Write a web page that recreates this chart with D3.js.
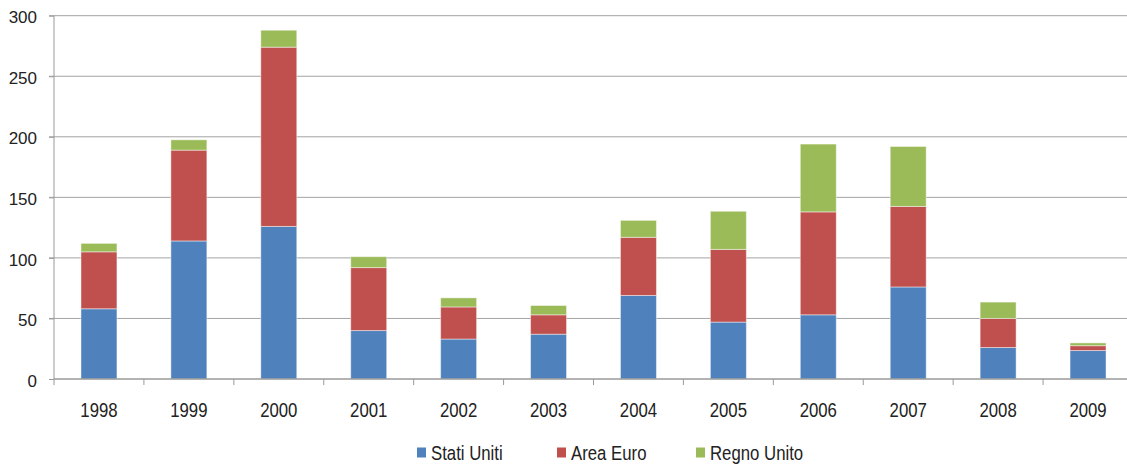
<!DOCTYPE html>
<html>
<head>
<meta charset="utf-8">
<script src="https://cdn.jsdelivr.net/npm/d3@7/dist/d3.min.js"></script>
<style>
html,body{margin:0;padding:0;background:#fff;}
svg{display:block;}
</style>
</head>
<body>
<svg id="chart" width="1127" height="464"></svg>
<script>
const years = ["1998","1999","2000","2001","2002","2003","2004","2005","2006","2007","2008","2009"];
const statiUniti = [58, 114, 126, 40, 33, 37, 69, 47, 53, 76, 26, 23.5];
const areaEuro   = [47, 75, 148, 52, 26.5, 16, 48, 60, 85, 66.5, 24, 4];
const regnoUnito = [7, 8.5, 14, 9, 7.5, 7.7, 14, 31.5, 56, 49.5, 13.5, 2.3];
const seriesNames = ["Stati Uniti", "Area Euro", "Regno Unito"];
const seriesColors = ["#4F81BD", "#C0504D", "#9BBB59"];
const yTicks = [0, 50, 100, 150, 200, 250, 300];

(function () {
const svg = d3.select("#chart");
const pLeft = 54, pRight = 1133, pTop = 15.7, pBottom = 379;
const FONT = "'Liberation Sans', Arial, sans-serif";

const x = d3.scaleBand().domain(years).range([pLeft, pRight]).paddingInner(0.6).paddingOuter(0.3);
const y = d3.scaleLinear().domain([0, 300]).range([pBottom, pTop]);

const keys = ["s0","s1","s2"];
const table = years.map((yr, i) => ({year: yr, s0: statiUniti[i], s1: areaEuro[i], s2: regnoUnito[i]}));
const stack = d3.stack().keys(keys)(table);

// gridlines
svg.append("g").selectAll("line").data(yTicks.filter(d => d > 0)).join("line")
  .attr("x1", pLeft - 5).attr("x2", 1127)
  .attr("y1", d => y(d)).attr("y2", d => y(d))
  .attr("stroke", "#a3a3a3").attr("stroke-width", 1);

// bars
const g = svg.append("g");
stack.forEach((layer, si) => {
  g.append("g").attr("fill", seriesColors[si])
    .selectAll("rect").data(layer).join("rect")
    .attr("x", d => x(d.data.year))
    .attr("width", x.bandwidth())
    .attr("y", d => y(d[1]))
    .attr("height", d => y(d[0]) - y(d[1]))
    .attr("stroke", "rgba(255,255,255,0.45)")
    .attr("stroke-width", 1);
});

// y axis
const yAxis = svg.append("g").attr("transform", `translate(${pLeft},0)`)
  .call(d3.axisLeft(y).tickValues(yTicks).tickSize(5).tickPadding(12));
yAxis.select(".domain").remove();
yAxis.selectAll(".tick line").attr("stroke", "#9a9a9a");
yAxis.selectAll(".tick text")
  .attr("font-family", FONT)
  .attr("font-size", "17px").attr("fill", "#222").attr("dy", "0.42em");
svg.append("line").attr("x1", pLeft).attr("x2", pLeft).attr("y1", pTop).attr("y2", pBottom + 6)
  .attr("stroke", "#9a9a9a").attr("stroke-width", 1);

// x axis
svg.append("line").attr("x1", pLeft).attr("x2", 1127).attr("y1", pBottom).attr("y2", pBottom)
  .attr("stroke", "#9a9a9a").attr("stroke-width", 1.5);
svg.append("g").selectAll("line").data(years.slice(1)).join("line")
  .attr("x1", d => x(d) - x.step() * x.paddingInner() / 2)
  .attr("x2", d => x(d) - x.step() * x.paddingInner() / 2)
  .attr("y1", pBottom).attr("y2", pBottom + 6)
  .attr("stroke", "#9a9a9a").attr("stroke-width", 1);
svg.append("g").selectAll("text").data(years).join("text")
  .attr("transform", d => `translate(${x(d) + x.bandwidth() / 2},417) scale(0.86,1)`)
  .attr("text-anchor", "middle")
  .attr("font-family", FONT)
  .attr("font-size", "19.5px").attr("fill", "#222")
  .text(d => d);

// legend
const legendX = [417, 557, 696];
const leg = svg.append("g");
seriesNames.forEach((name, i) => {
  leg.append("rect").attr("x", legendX[i]).attr("y", 447.5).attr("width", 9).attr("height", 10)
    .attr("fill", seriesColors[i]);
  leg.append("text")
    .attr("transform", `translate(${legendX[i] + 14},460) scale(0.86,1)`)
    .attr("font-family", FONT)
    .attr("font-size", "19.5px").attr("fill", "#222")
    .text(name);
});
})();
</script>
</body>
</html>
